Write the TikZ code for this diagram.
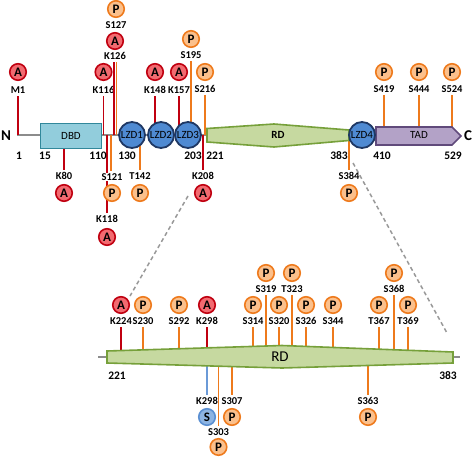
\documentclass[tikz,border=0pt]{standalone}
\usepackage{fontspec}
\setmainfont{Carlito}
\definecolor{aDraw}{HTML}{C00010}
\definecolor{aFill}{HTML}{F26A70}
\definecolor{pDraw}{HTML}{EE7A1C}
\definecolor{pFill}{HTML}{FBC08C}
\definecolor{sDraw}{HTML}{5A8FD2}
\definecolor{sFill}{HTML}{8DB4E2}
\definecolor{lzFill}{HTML}{4F8AD2}
\definecolor{lzDraw}{HTML}{1F3864}
\definecolor{rdFill}{HTML}{C6D9A0}
\definecolor{rdDraw}{HTML}{76A03A}
\definecolor{dbdFill}{HTML}{92CDDC}
\definecolor{dbdDraw}{HTML}{31889B}
\definecolor{tadFill}{HTML}{B3A2C7}
\definecolor{tadDraw}{HTML}{604A7B}
\definecolor{bbGray}{HTML}{8C8C8C}
\tikzset{
  site/.style={circle, line width=1.6pt, minimum size=16.5pt, inner sep=0pt, font=\fontsize{13}{13}\selectfont\bfseries},
  acet/.style={site, draw=aDraw, fill=aFill},
  phos/.style={site, draw=pDraw, fill=pFill},
  sumo/.style={site, draw=sDraw, fill=sFill},
  lbl/.style={inner sep=0pt, font=\fontsize{10.5}{10.5}\selectfont\bfseries},
  num/.style={inner sep=0pt, font=\fontsize{11.5}{11.5}\selectfont\bfseries},
  redln/.style={draw=aDraw, line width=1.8pt},
  orln/.style={draw=pDraw, line width=1.8pt},
  blueln/.style={draw=sDraw!90, line width=1.8pt},
  lzd/.style={circle, draw=lzDraw, fill=lzFill, line width=1.8pt, minimum size=26pt, inner sep=0pt, font=\fontsize{11}{11}\selectfont},
  dom/.style={inner sep=0pt, font=\fontsize{11}{11}\selectfont},
  zoomln/.style={draw=gray!80, line width=1.5pt, dash pattern=on 4pt off 3pt},
}
\begin{document}
\begin{tikzpicture}[x=1pt, y=-1pt]
\useasboundingbox (0,0) rectangle (473,457);

% ---------------- top: backbone -----------------
\coordinate (bbL) at (17,135);
\coordinate (bbR) at (208,135);
\draw[bbGray, line width=2pt] (bbL) -- (bbR);

% ---------------- top: site lines (behind shapes) ----------
\foreach \n/\x in {M1/18, K116/103.5, K126/114, S127/116.5, K148/155, K157/179, S195/191, S216/205}
  \coordinate (b\n) at (\x,135);
\foreach \n/\x in {S419/384, S444/419, S524/452}
  \coordinate (b\n) at (\x,130);

% A sites, top row
\foreach \n/\x in {M1/18, K116/103.5, K148/155, K157/179}{
  \node[acet] (c\n) at (\x,72) {A};
  \node[lbl] (l\n) at (\x,90) {\n};
  \draw[redln] (l\n.south) ++(0,2.5) -- (b\n);
}
% P sites, top row
\foreach \n/\x in {S216/205, S419/384, S444/419, S524/452}{
  \node[phos] (c\n) at (\x,72) {P};
  \node[lbl] (l\n) at (\x,89) {\n};
  \draw[orln] (l\n.south) ++(0,2.5) -- (b\n);
}
% stacked
\node[phos] (cS127) at (116,9) {P};
\node[lbl] (lS127) at (116,25) {S127};
\node[acet] (cK126) at (115,41) {A};
\node[lbl] (lK126) at (115,56) {K126};
\draw[redln] (lK126.south -| bK126) ++(0,2.5) -- (bK126);
\draw[orln] (lK126.south -| bS127) ++(0,2.5) -- (bS127);
\node[phos] (cS195) at (191,39) {P};
\node[lbl] (lS195) at (191,55) {S195};
\draw[orln] (lS195.south) ++(0,2.5) -- (bS195);

% below-backbone sites
\coordinate (bK118) at (107,135);
\coordinate (bS121) at (111,135);
\coordinate (bK80) at (64,145);
\coordinate (bT142) at (140,145);
\coordinate (bK208) at (203,135);
\coordinate (bS384) at (349,140);
\node[acet] (cK118) at (107,237) {A};
\node[lbl] (lK118) at (107,219) {K118};
\draw[redln] (bK118) -- ([yshift=2.5pt]lK118.north);
\draw[orln] (bS121) -- (111,171);
\node[lbl, fill=white, inner sep=1pt] (lS121) at (112,177) {S121};
\node[phos] (cS121) at (112,193) {P};

\foreach \n/\x/\t in {K80/64/A, K208/203/A}{
  \node[lbl] (l\n) at (\x,176) {\n};
  \node[acet] (c\n) at (\x,193) {\t};
  \draw[redln] (b\n) -- ([yshift=2.5pt]l\n.north);
}
\foreach \n/\x in {T142/140, S384/349}{
  \node[lbl] (l\n) at (\x,176) {\n};
  \node[phos] (c\n) at (\x,193) {P};
  \draw[orln] (b\n) -- ([yshift=2.5pt]l\n.north);
}

% ---------------- top: domains -----------------
\node[draw=dbdDraw, fill=dbdFill, line width=1.6pt, minimum width=61pt, minimum height=25pt, inner sep=0pt, font=\fontsize{11}{11}\selectfont] (DBD) at (71,136) {DBD};
\filldraw[draw=rdDraw, fill=rdFill, line width=1.6pt]
  (207,128.5) -- (274,124) -- (349,130) -- (349,140.5) -- (274,147) -- (207,142) -- cycle;
\node[dom, font=\fontsize{11}{11}\selectfont\bfseries] (RDtop) at (278,135) {RD};
\filldraw[draw=tadDraw, fill=tadFill, line width=1.6pt]
  (376,127) -- (452,127) -- (461,136) -- (452,145) -- (376,145) -- cycle;
\node[dom] (TAD) at (419,135) {TAD};
\node[lzd] (LZD1) at (132,135) {LZD1};
\node[lzd] (LZD2) at (161,135) {LZD2};
\node[lzd] (LZD3) at (188,135) {LZD3};
\node[lzd] (LZD4) at (362,135) {LZD4};

\node[inner sep=0pt, font=\fontsize{15}{15}\selectfont\bfseries] (N) at (6,136) {N};
\node[inner sep=0pt, font=\fontsize{15}{15}\selectfont\bfseries] (C) at (468,136) {C};

\foreach \t/\x in {1/19, 15/45, 110/98, 130/127, 203/193, 221/215, 383/339, 410/382, 529/453}
  \node[num] at (\x,156) {\t};

% ---------------- zoom lines -----------------
\coordinate (zL1) at (188,196);
\coordinate (zL2) at (130,296);
\coordinate (zR1) at (353,163);
\coordinate (zR2) at (447,333);
\draw[zoomln] (zL1) -- (zL2);
\draw[zoomln] (zR1) -- (zR2);

% ---------------- bottom RD -----------------
\coordinate (rL) at (98,357);
\coordinate (rR) at (460,357);
\draw[bbGray, line width=2pt] (rL) -- (rR);

% lower row above
\foreach \n/\x/\t in {K224/121/A, S230/143/P, S292/179/P, K298/207/A, S314/253/P, S320/279/P, S326/306/P, S344/333/P, T367/379/P, T369/408/P}{
  \coordinate (b\n) at (\x,357);
  \node[lbl] (l\n) at (\x,321) {\n};
  \if A\t
    \node[acet] (c\n) at (\x,305) {A};
    \draw[redln] (l\n.south) ++(0,2.5) -- (b\n);
  \else
    \node[phos] (c\n) at (\x,305) {P};
    \draw[orln] (l\n.south) ++(0,2.5) -- (b\n);
  \fi
}
% upper row above
\foreach \n/\x in {S319/266, T323/292, S368/394}{
  \coordinate (b\n) at (\x,357);
  \node[phos] (c\n) at (\x,273) {P};
  \node[lbl] (l\n) at (\x,289) {\n};
  \draw[orln] (l\n.south) ++(0,2.5) -- (b\n);
}
% below
\coordinate (bbK298) at (207,357);
\node[lbl] (lbK298) at (207,401) {K298};
\node[sumo] (cbK298) at (207,417) {S};
\draw[blueln] (bbK298) -- ([yshift=2.5pt]lbK298.north);
\foreach \n/\x in {S307/232, S363/368}{
  \coordinate (b\n) at (\x,357);
  \node[lbl] (l\n) at (\x,401) {\n};
  \node[phos] (c\n) at (\x,417) {P};
  \draw[orln] (b\n) -- ([yshift=2.5pt]l\n.north);
}
\coordinate (bS303) at (218.5,357);
\node[lbl] (lS303) at (218.5,432) {S303};
\node[phos] (cS303) at (218.5,447) {P};
\draw[orln] (bS303) -- ([yshift=2.5pt]lS303.north);

\filldraw[draw=rdDraw, fill=rdFill, line width=1.6pt]
  (107,351) -- (282,345.5) -- (453,352) -- (453,363) -- (282,368) -- (107,363) -- cycle;
\node[dom, font=\fontsize{15}{15}\selectfont] (RDbot) at (280,357) {RD};
\node[num] at (117,376) {221};
\node[num] at (448,376) {383};
\end{tikzpicture}
\end{document}
